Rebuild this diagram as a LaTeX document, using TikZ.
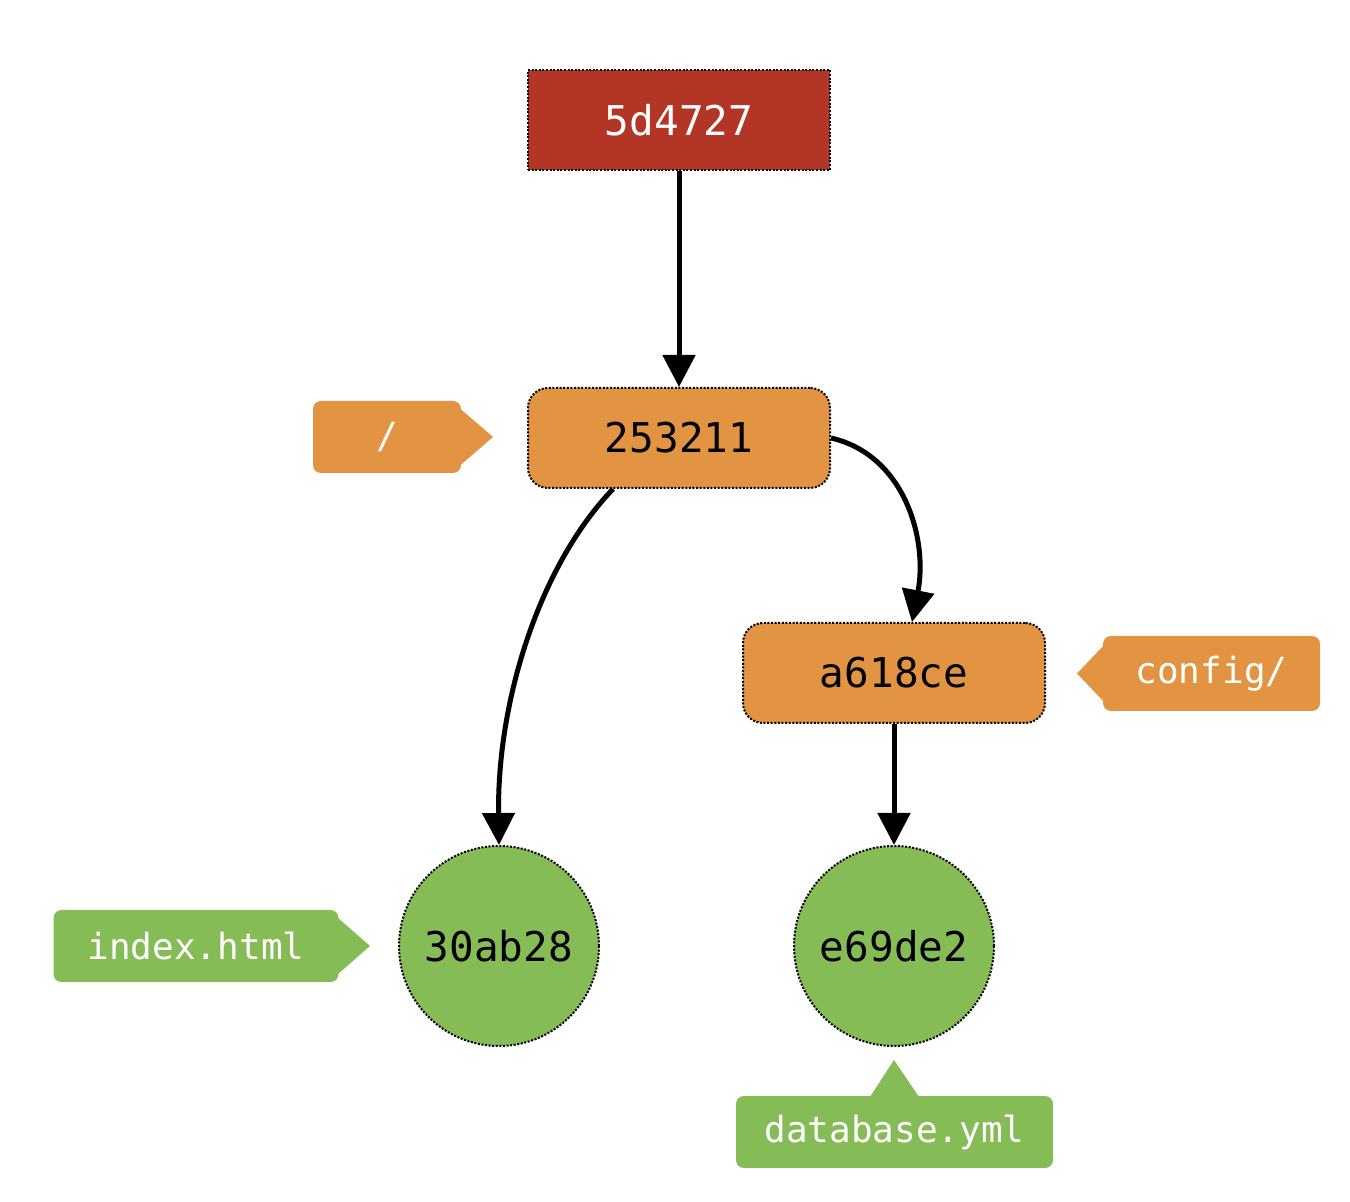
\documentclass[tikz,border=0pt]{standalone}
\usepackage{fontspec}
\setmonofont{DejaVu Sans Mono}
\usetikzlibrary{arrows.meta}
\definecolor{cred}{RGB}{179,53,37}
\definecolor{corange}{RGB}{226,148,66}
\definecolor{cgreen}{RGB}{134,188,86}
\begin{document}
\begin{tikzpicture}[x=0.5pt,y=-0.5pt,
  obj/.style={draw=black, line width=1pt, dash pattern=on 1pt off 0.8pt, inner sep=0pt,
    font=\ttfamily\fontsize{20.5}{24}\selectfont},
  commitbox/.style={obj, fill=cred, text=white, minimum width=151pt, minimum height=50pt},
  treebox/.style={obj, fill=corange, text=black, rounded corners=10pt, minimum width=151pt, minimum height=50pt},
  blobnode/.style={obj, circle, fill=cgreen, text=black, minimum size=100pt},
  tagbox/.style={fill=#1, text=white, rounded corners=4pt, inner sep=0pt,
    font=\ttfamily\fontsize{18}{22}\selectfont},
  link/.style={line width=2.5pt, -{Triangle[width=16pt,length=16pt]}}]
\useasboundingbox (0,0) rectangle (1350,1202);

% objects
\node[commitbox] (c) at (679,120) {\raisebox{-1.5pt}{5d4727}};
\node[treebox] (t1) at (679,438) {\raisebox{-1.5pt}{253211}};
\node[treebox] (t2) at (894,673) {\raisebox{-1.5pt}{a618ce}};
\node[blobnode] (b1) at (499,946) {30ab28};
\node[blobnode] (b2) at (894,946) {e69de2};

% tags
\node[tagbox=corange, minimum width=74pt, minimum height=36pt] (l1) at (387,437) {/};
\fill[corange] (l1.east) ++(-2,-29) -- (493,437) -- ([xshift=-1pt,yshift=-14.5pt]l1.east) -- cycle;
\node[tagbox=corange, minimum width=108.5pt, minimum height=37.5pt] (l2) at (1211.5,673.5) {config/};
\fill[corange] (l2.west) ++(2,-29) -- (1077,673.5) -- ([xshift=1pt,yshift=-14.5pt]l2.west) -- cycle;
\node[tagbox=cgreen, minimum width=142.5pt, minimum height=36pt] (l3) at (196,946) {index.html};
\fill[cgreen] (l3.east) ++(-2,-29) -- (370,946) -- ([xshift=-1pt,yshift=-14.5pt]l3.east) -- cycle;
\node[tagbox=cgreen, minimum width=158.5pt, minimum height=36pt] (l4) at (894.5,1132) {database.yml};
\fill[cgreen] ([xshift=-12.5pt,yshift=-1pt]l4.north) -- (894,1060) -- ([xshift=12.5pt,yshift=-1pt]l4.north) -- cycle;

% connectors
\draw[link] (c.south) -- (t1.north);
\draw[link] ([xshift=-33pt]t1.south) .. controls (540,565) and (497,700) .. (b1.north);
\draw[link] (t1.east) .. controls (905,455) and (928,540) .. ([xshift=9pt]t2.north);
\draw[link] (t2.south) -- (b2.north);
\end{tikzpicture}
\end{document}
